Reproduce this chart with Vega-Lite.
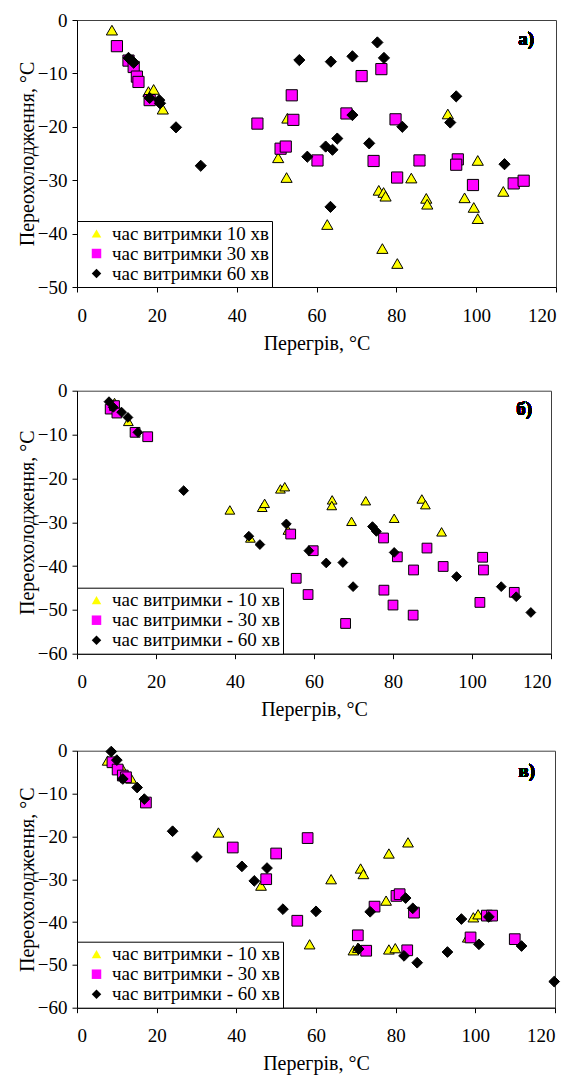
{
  "$schema": "https://vega.github.io/schema/vega-lite/v6.json",
  "background": "white",
  "padding": {"left": 16, "top": 10, "right": 0, "bottom": 0},
  "bounds": "flush",
  "spacing": 103.7,
  "resolve": {"scale": {"fill": "independent", "shape": "independent"}, "legend": {"fill": "independent", "shape": "independent"}},
  "vconcat": [
    {
      "width": 479,
      "height": 267,
      "data": {"values": [
        {"x": 8.75, "y": -1.9, "s": "час витримки 10 хв"},
        {"x": 17.9, "y": -13.4, "s": "час витримки 10 хв"},
        {"x": 19.2, "y": -13.0, "s": "час витримки 10 хв"},
        {"x": 21.5, "y": -16.7, "s": "час витримки 10 хв"},
        {"x": 50.4, "y": -25.8, "s": "час витримки 10 хв"},
        {"x": 52.5, "y": -29.5, "s": "час витримки 10 хв"},
        {"x": 52.7, "y": -18.4, "s": "час витримки 10 хв"},
        {"x": 62.7, "y": -38.3, "s": "час витримки 10 хв"},
        {"x": 75.6, "y": -31.9, "s": "час витримки 10 хв"},
        {"x": 76.8, "y": -32.3, "s": "час витримки 10 хв"},
        {"x": 77.3, "y": -33.0, "s": "час витримки 10 хв"},
        {"x": 76.5, "y": -42.8, "s": "час витримки 10 хв"},
        {"x": 80.25, "y": -45.6, "s": "час витримки 10 хв"},
        {"x": 83.75, "y": -29.6, "s": "час витримки 10 хв"},
        {"x": 87.5, "y": -33.4, "s": "час витримки 10 хв"},
        {"x": 87.75, "y": -34.5, "s": "час витримки 10 хв"},
        {"x": 92.9, "y": -17.6, "s": "час витримки 10 хв"},
        {"x": 97.1, "y": -33.3, "s": "час витримки 10 хв"},
        {"x": 99.4, "y": -35.1, "s": "час витримки 10 хв"},
        {"x": 100.4, "y": -26.3, "s": "час витримки 10 хв"},
        {"x": 100.4, "y": -37.2, "s": "час витримки 10 хв"},
        {"x": 106.8, "y": -32.1, "s": "час витримки 10 хв"},
        {"x": 10.0, "y": -4.9, "s": "час витримки 30 хв"},
        {"x": 12.9, "y": -7.6, "s": "час витримки 30 хв"},
        {"x": 14.2, "y": -8.8, "s": "час витримки 30 хв"},
        {"x": 15.0, "y": -10.6, "s": "час витримки 30 хв"},
        {"x": 15.4, "y": -11.6, "s": "час витримки 30 хв"},
        {"x": 18.2, "y": -15.0, "s": "час витримки 30 хв"},
        {"x": 45.2, "y": -19.4, "s": "час витримки 30 хв"},
        {"x": 51.0, "y": -24.1, "s": "час витримки 30 хв"},
        {"x": 52.3, "y": -23.7, "s": "час витримки 30 хв"},
        {"x": 53.8, "y": -14.1, "s": "час витримки 30 хв"},
        {"x": 54.2, "y": -18.7, "s": "час витримки 30 хв"},
        {"x": 60.25, "y": -26.3, "s": "час витримки 30 хв"},
        {"x": 67.5, "y": -17.5, "s": "час витримки 30 хв"},
        {"x": 71.3, "y": -10.5, "s": "час витримки 30 хв"},
        {"x": 74.3, "y": -26.4, "s": "час витримки 30 хв"},
        {"x": 76.25, "y": -9.2, "s": "час витримки 30 хв"},
        {"x": 79.8, "y": -18.6, "s": "час витримки 30 хв"},
        {"x": 80.2, "y": -29.5, "s": "час витримки 30 хв"},
        {"x": 85.8, "y": -26.3, "s": "час витримки 30 хв"},
        {"x": 95.4, "y": -26.1, "s": "час витримки 30 хв"},
        {"x": 95.0, "y": -27.1, "s": "час витримки 30 хв"},
        {"x": 99.2, "y": -30.9, "s": "час витримки 30 хв"},
        {"x": 109.4, "y": -30.6, "s": "час витримки 30 хв"},
        {"x": 111.9, "y": -30.1, "s": "час витримки 30 хв"},
        {"x": 12.9, "y": -7.1, "s": "час витримки 60 хв"},
        {"x": 13.75, "y": -7.6, "s": "час витримки 60 хв"},
        {"x": 14.2, "y": -8.0, "s": "час витримки 60 хв"},
        {"x": 18.2, "y": -14.6, "s": "час витримки 60 хв"},
        {"x": 20.6, "y": -15.0, "s": "час витримки 60 хв"},
        {"x": 20.8, "y": -15.6, "s": "час витримки 60 хв"},
        {"x": 24.8, "y": -20.1, "s": "час витримки 60 хв"},
        {"x": 31.0, "y": -27.3, "s": "час витримки 60 хв"},
        {"x": 55.7, "y": -7.5, "s": "час витримки 60 хв"},
        {"x": 57.7, "y": -25.6, "s": "час витримки 60 хв"},
        {"x": 62.3, "y": -23.7, "s": "час витримки 60 хв"},
        {"x": 63.5, "y": -35.0, "s": "час витримки 60 хв"},
        {"x": 63.6, "y": -7.8, "s": "час витримки 60 хв"},
        {"x": 64.0, "y": -24.3, "s": "час витримки 60 хв"},
        {"x": 65.2, "y": -22.2, "s": "час витримки 60 хв"},
        {"x": 69.0, "y": -6.8, "s": "час витримки 60 хв"},
        {"x": 69.0, "y": -17.8, "s": "час витримки 60 хв"},
        {"x": 73.2, "y": -23.1, "s": "час витримки 60 хв"},
        {"x": 75.25, "y": -4.2, "s": "час витримки 60 хв"},
        {"x": 76.9, "y": -7.1, "s": "час витримки 60 хв"},
        {"x": 81.5, "y": -20.0, "s": "час витримки 60 хв"},
        {"x": 93.5, "y": -19.2, "s": "час витримки 60 хв"},
        {"x": 95.0, "y": -14.3, "s": "час витримки 60 хв"},
        {"x": 107.1, "y": -27.0, "s": "час витримки 60 хв"}
      ]},
      "layer": [
        {
          "mark": {"type": "point", "filled": true, "stroke": "black", "strokeWidth": 1, "opacity": 1, "size": 125},
          "encoding": {
            "x": {"field": "x", "type": "quantitative", "scale": {"domain": [0, 120], "nice": false, "zero": false}, "axis": {"values": [0, 20, 40, 60, 80, 100, 120], "title": "Перегрів, °C"}},
            "y": {"field": "y", "type": "quantitative", "scale": {"domain": [-50, 0], "nice": false, "zero": false}, "axis": {"values": [-50, -40, -30, -20, -10, 0], "title": "Переохолодження, °C"}},
            "fill": {"field": "s", "type": "nominal", "scale": {"domain": ["час витримки 10 хв", "час витримки 30 хв", "час витримки 60 хв"], "range": ["#FFFF00", "#FF00FF", "#000000"]}, "legend": {"title": null, "orient": "bottom-left", "symbolStrokeColor": "black", "encode": {"symbols": {"update": {"stroke": {"value": "black"}, "strokeWidth": {"value": 1}}}}}},
            "shape": {"field": "s", "type": "nominal", "scale": {"domain": ["час витримки 10 хв", "час витримки 30 хв", "час витримки 60 хв"], "range": ["triangle-up", "square", "diamond"]}, "legend": {"title": null, "orient": "bottom-left", "symbolStrokeColor": "black", "encode": {"symbols": {"update": {"stroke": {"value": "black"}, "strokeWidth": {"value": 1}}}}}}
          }
        },
        {
          "mark": {"type": "text", "text": "а)", "font": "Liberation Serif, Times New Roman, serif", "fontSize": 19, "fontWeight": "bold", "align": "center", "baseline": "middle"},
          "encoding": {"x": {"datum": 112.5}, "y": {"datum": -3.5}}
        }
      ]
    },
    {
      "spacing": 97,
      "bounds": "flush",
      "resolve": {"scale": {"fill": "independent", "shape": "independent"}, "legend": {"fill": "independent", "shape": "independent"}},
      "vconcat": [
        {
          "width": 474,
          "height": 263,
          "data": {"values": [
            {"x": 9.5, "y": -2.7, "s": "час витримки - 10 хв"},
            {"x": 13.0, "y": -7.0, "s": "час витримки - 10 хв"},
            {"x": 38.7, "y": -27.2, "s": "час витримки - 10 хв"},
            {"x": 43.9, "y": -33.6, "s": "час витримки - 10 хв"},
            {"x": 46.9, "y": -26.6, "s": "час витримки - 10 хв"},
            {"x": 47.5, "y": -25.7, "s": "час витримки - 10 хв"},
            {"x": 51.5, "y": -22.4, "s": "час витримки - 10 хв"},
            {"x": 52.6, "y": -21.9, "s": "час витримки - 10 хв"},
            {"x": 53.4, "y": -31.8, "s": "час витримки - 10 хв"},
            {"x": 64.6, "y": -24.9, "s": "час витримки - 10 хв"},
            {"x": 64.5, "y": -26.2, "s": "час витримки - 10 хв"},
            {"x": 69.5, "y": -29.8, "s": "час витримки - 10 хв"},
            {"x": 73.1, "y": -25.1, "s": "час витримки - 10 хв"},
            {"x": 80.3, "y": -29.1, "s": "час витримки - 10 хв"},
            {"x": 87.3, "y": -24.7, "s": "час витримки - 10 хв"},
            {"x": 88.2, "y": -26.0, "s": "час витримки - 10 хв"},
            {"x": 92.3, "y": -32.2, "s": "час витримки - 10 хв"},
            {"x": 8.4, "y": -4.2, "s": "час витримки - 30 хв"},
            {"x": 9.5, "y": -3.4, "s": "час витримки - 30 хв"},
            {"x": 10.1, "y": -5.1, "s": "час витримки - 30 хв"},
            {"x": 14.7, "y": -9.5, "s": "час витримки - 30 хв"},
            {"x": 17.9, "y": -10.5, "s": "час витримки - 30 хв"},
            {"x": 54.1, "y": -32.7, "s": "час витримки - 30 хв"},
            {"x": 55.5, "y": -42.8, "s": "час витримки - 30 хв"},
            {"x": 58.5, "y": -46.5, "s": "час витримки - 30 хв"},
            {"x": 59.8, "y": -36.5, "s": "час витримки - 30 хв"},
            {"x": 68.0, "y": -53.1, "s": "час витримки - 30 хв"},
            {"x": 77.6, "y": -33.6, "s": "час витримки - 30 хв"},
            {"x": 77.7, "y": -45.5, "s": "час витримки - 30 хв"},
            {"x": 80.0, "y": -48.9, "s": "час витримки - 30 хв"},
            {"x": 81.1, "y": -37.9, "s": "час витримки - 30 хв"},
            {"x": 85.2, "y": -40.9, "s": "час витримки - 30 хв"},
            {"x": 85.1, "y": -51.2, "s": "час витримки - 30 хв"},
            {"x": 88.6, "y": -35.9, "s": "час витримки - 30 хв"},
            {"x": 92.7, "y": -40.1, "s": "час витримки - 30 хв"},
            {"x": 102.0, "y": -48.3, "s": "час витримки - 30 хв"},
            {"x": 102.7, "y": -38.0, "s": "час витримки - 30 хв"},
            {"x": 102.9, "y": -40.9, "s": "час витримки - 30 хв"},
            {"x": 110.7, "y": -46.0, "s": "час витримки - 30 хв"},
            {"x": 8.1, "y": -2.5, "s": "час витримки - 60 хв"},
            {"x": 9.2, "y": -3.8, "s": "час витримки - 60 хв"},
            {"x": 11.3, "y": -4.9, "s": "час витримки - 60 хв"},
            {"x": 12.9, "y": -6.1, "s": "час витримки - 60 хв"},
            {"x": 15.4, "y": -9.5, "s": "час витримки - 60 хв"},
            {"x": 27.0, "y": -22.8, "s": "час витримки - 60 хв"},
            {"x": 43.5, "y": -33.2, "s": "час витримки - 60 хв"},
            {"x": 46.3, "y": -35.1, "s": "час витримки - 60 хв"},
            {"x": 53.0, "y": -30.4, "s": "час витримки - 60 хв"},
            {"x": 58.7, "y": -36.5, "s": "час витримки - 60 хв"},
            {"x": 63.1, "y": -39.3, "s": "час витримки - 60 хв"},
            {"x": 67.3, "y": -39.2, "s": "час витримки - 60 хв"},
            {"x": 69.9, "y": -44.7, "s": "час витримки - 60 хв"},
            {"x": 74.8, "y": -31.0, "s": "час витримки - 60 хв"},
            {"x": 75.8, "y": -32.1, "s": "час витримки - 60 хв"},
            {"x": 80.3, "y": -36.9, "s": "час витримки - 60 хв"},
            {"x": 96.1, "y": -42.4, "s": "час витримки - 60 хв"},
            {"x": 107.4, "y": -44.7, "s": "час витримки - 60 хв"},
            {"x": 111.2, "y": -47.0, "s": "час витримки - 60 хв"},
            {"x": 114.9, "y": -50.6, "s": "час витримки - 60 хв"}
          ]},
          "layer": [
            {
              "mark": {"type": "point", "filled": true, "stroke": "black", "strokeWidth": 1, "opacity": 1, "size": 95},
              "encoding": {
                "x": {"field": "x", "type": "quantitative", "scale": {"domain": [0, 120], "nice": false, "zero": false}, "axis": {"values": [0, 20, 40, 60, 80, 100, 120], "title": "Перегрів, °C"}},
                "y": {"field": "y", "type": "quantitative", "scale": {"domain": [-60, 0], "nice": false, "zero": false}, "axis": {"values": [-60, -50, -40, -30, -20, -10, 0], "title": "Переохолодження, °C"}},
                "fill": {"field": "s", "type": "nominal", "scale": {"domain": ["час витримки - 10 хв", "час витримки - 30 хв", "час витримки - 60 хв"], "range": ["#FFFF00", "#FF00FF", "#000000"]}, "legend": {"title": null, "orient": "bottom-left", "symbolStrokeColor": "black", "encode": {"symbols": {"update": {"stroke": {"value": "black"}, "strokeWidth": {"value": 1}}}}}},
                "shape": {"field": "s", "type": "nominal", "scale": {"domain": ["час витримки - 10 хв", "час витримки - 30 хв", "час витримки - 60 хв"], "range": ["triangle-up", "square", "diamond"]}, "legend": {"title": null, "orient": "bottom-left", "symbolStrokeColor": "black", "encode": {"symbols": {"update": {"stroke": {"value": "black"}, "strokeWidth": {"value": 1}}}}}}
              }
            },
            {
              "mark": {"type": "text", "text": "б)", "font": "Liberation Serif, Times New Roman, serif", "fontSize": 19, "fontWeight": "bold", "align": "center", "baseline": "middle"},
              "encoding": {"x": {"datum": 113.2}, "y": {"datum": -4.1}}
            }
          ]
        },
        {
          "width": 478,
          "height": 257,
          "data": {"values": [
            {"x": 7.7, "y": -2.3, "s": "час витримки - 10 хв"},
            {"x": 11.5, "y": -4.4, "s": "час витримки - 10 хв"},
            {"x": 13.6, "y": -6.5, "s": "час витримки - 10 хв"},
            {"x": 35.5, "y": -19.1, "s": "час витримки - 10 хв"},
            {"x": 46.2, "y": -31.5, "s": "час витримки - 10 хв"},
            {"x": 58.4, "y": -45.2, "s": "час витримки - 10 хв"},
            {"x": 63.8, "y": -30.0, "s": "час витримки - 10 хв"},
            {"x": 69.4, "y": -46.6, "s": "час витримки - 10 хв"},
            {"x": 70.5, "y": -46.0, "s": "час витримки - 10 хв"},
            {"x": 71.2, "y": -27.5, "s": "час витримки - 10 хв"},
            {"x": 71.9, "y": -28.8, "s": "час витримки - 10 хв"},
            {"x": 77.6, "y": -35.0, "s": "час витримки - 10 хв"},
            {"x": 78.3, "y": -24.0, "s": "час витримки - 10 хв"},
            {"x": 78.3, "y": -46.4, "s": "час витримки - 10 хв"},
            {"x": 79.9, "y": -46.1, "s": "час витримки - 10 хв"},
            {"x": 83.1, "y": -21.4, "s": "час витримки - 10 хв"},
            {"x": 98.1, "y": -43.6, "s": "час витримки - 10 хв"},
            {"x": 99.5, "y": -38.9, "s": "час витримки - 10 хв"},
            {"x": 100.7, "y": -38.2, "s": "час витримки - 10 хв"},
            {"x": 8.9, "y": -2.7, "s": "час витримки - 30 хв"},
            {"x": 10.2, "y": -4.4, "s": "час витримки - 30 хв"},
            {"x": 11.5, "y": -5.8, "s": "час витримки - 30 хв"},
            {"x": 12.3, "y": -6.2, "s": "час витримки - 30 хв"},
            {"x": 17.3, "y": -12.1, "s": "час витримки - 30 хв"},
            {"x": 39.1, "y": -22.6, "s": "час витримки - 30 хв"},
            {"x": 47.5, "y": -30.0, "s": "час витримки - 30 хв"},
            {"x": 50.0, "y": -24.0, "s": "час витримки - 30 хв"},
            {"x": 55.3, "y": -39.7, "s": "час витримки - 30 хв"},
            {"x": 57.9, "y": -20.4, "s": "час витримки - 30 хв"},
            {"x": 70.5, "y": -43.1, "s": "час витримки - 30 хв"},
            {"x": 72.6, "y": -46.7, "s": "час витримки - 30 хв"},
            {"x": 74.7, "y": -36.4, "s": "час витримки - 30 хв"},
            {"x": 80.2, "y": -33.9, "s": "час витримки - 30 хв"},
            {"x": 81.0, "y": -33.5, "s": "час витримки - 30 хв"},
            {"x": 82.9, "y": -46.6, "s": "час витримки - 30 хв"},
            {"x": 84.6, "y": -37.8, "s": "час витримки - 30 хв"},
            {"x": 98.8, "y": -43.6, "s": "час витримки - 30 хв"},
            {"x": 102.9, "y": -38.5, "s": "час витримки - 30 хв"},
            {"x": 104.2, "y": -38.5, "s": "час витримки - 30 хв"},
            {"x": 109.9, "y": -44.0, "s": "час витримки - 30 хв"},
            {"x": 8.6, "y": -0.2, "s": "час витримки - 60 хв"},
            {"x": 10.0, "y": -2.2, "s": "час витримки - 60 хв"},
            {"x": 11.5, "y": -6.6, "s": "час витримки - 60 хв"},
            {"x": 15.1, "y": -8.6, "s": "час витримки - 60 хв"},
            {"x": 16.9, "y": -11.3, "s": "час витримки - 60 хв"},
            {"x": 24.0, "y": -18.8, "s": "час витримки - 60 хв"},
            {"x": 30.1, "y": -24.8, "s": "час витримки - 60 хв"},
            {"x": 41.4, "y": -27.0, "s": "час витримки - 60 хв"},
            {"x": 44.5, "y": -30.4, "s": "час витримки - 60 хв"},
            {"x": 47.7, "y": -27.4, "s": "час витримки - 60 хв"},
            {"x": 51.7, "y": -37.0, "s": "час витримки - 60 хв"},
            {"x": 60.0, "y": -37.5, "s": "час витримки - 60 хв"},
            {"x": 70.7, "y": -46.3, "s": "час витримки - 60 хв"},
            {"x": 73.6, "y": -37.6, "s": "час витримки - 60 хв"},
            {"x": 82.1, "y": -47.9, "s": "час витримки - 60 хв"},
            {"x": 82.5, "y": -34.4, "s": "час витримки - 60 хв"},
            {"x": 84.3, "y": -36.8, "s": "час витримки - 60 хв"},
            {"x": 85.4, "y": -49.5, "s": "час витримки - 60 хв"},
            {"x": 93.0, "y": -47.0, "s": "час витримки - 60 хв"},
            {"x": 96.5, "y": -39.3, "s": "час витримки - 60 хв"},
            {"x": 100.9, "y": -45.2, "s": "час витримки - 60 хв"},
            {"x": 103.4, "y": -38.8, "s": "час витримки - 60 хв"},
            {"x": 111.6, "y": -45.6, "s": "час витримки - 60 хв"},
            {"x": 119.8, "y": -53.9, "s": "час витримки - 60 хв"}
          ]},
          "layer": [
            {
              "mark": {"type": "point", "filled": true, "stroke": "black", "strokeWidth": 1, "opacity": 1, "size": 115},
              "encoding": {
                "x": {"field": "x", "type": "quantitative", "scale": {"domain": [0, 120], "nice": false, "zero": false}, "axis": {"values": [0, 20, 40, 60, 80, 100, 120], "title": "Перегрів, °C"}},
                "y": {"field": "y", "type": "quantitative", "scale": {"domain": [-60, 0], "nice": false, "zero": false}, "axis": {"values": [-60, -50, -40, -30, -20, -10, 0], "title": "Переохолодження, °C"}},
                "fill": {"field": "s", "type": "nominal", "scale": {"domain": ["час витримки - 10 хв", "час витримки - 30 хв", "час витримки - 60 хв"], "range": ["#FFFF00", "#FF00FF", "#000000"]}, "legend": {"title": null, "orient": "bottom-left", "symbolStrokeColor": "black", "encode": {"symbols": {"update": {"stroke": {"value": "black"}, "strokeWidth": {"value": 1}}}}}},
                "shape": {"field": "s", "type": "nominal", "scale": {"domain": ["час витримки - 10 хв", "час витримки - 30 хв", "час витримки - 60 хв"], "range": ["triangle-up", "square", "diamond"]}, "legend": {"title": null, "orient": "bottom-left", "symbolStrokeColor": "black", "encode": {"symbols": {"update": {"stroke": {"value": "black"}, "strokeWidth": {"value": 1}}}}}}
              }
            },
            {
              "mark": {"type": "text", "text": "в)", "font": "Liberation Serif, Times New Roman, serif", "fontSize": 19, "fontWeight": "bold", "align": "center", "baseline": "middle"},
              "encoding": {"x": {"datum": 112.9}, "y": {"datum": -4.7}}
            }
          ]
        }
      ]
    }
  ],
  "config": {
    "font": "Liberation Serif, Times New Roman, serif",
    "view": {"stroke": "#404040", "strokeWidth": 1},
    "axis": {"domainColor": "black", "tickColor": "black", "labelColor": "black", "titleColor": "black", "labelFont": "Liberation Serif, Times New Roman, serif", "titleFont": "Liberation Serif, Times New Roman, serif", "labelFontSize": 19, "titleFontSize": 20, "titleFontWeight": "normal", "grid": false, "tickSize": 5, "domainWidth": 1, "tickWidth": 1, "labelOverlap": false},
    "axisX": {"labelPadding": 14, "titleY": 46, "titleBaseline": "top"},
    "axisY": {"labelPadding": 5, "titleX": -50, "titleBaseline": "middle"},
    "legend": {"offset": 0, "fillColor": "white", "strokeColor": "black", "padding": 3, "labelFont": "Liberation Serif, Times New Roman, serif", "labelFontSize": 19, "labelLimit": 0, "labelColor": "black", "symbolSize": 90, "symbolStrokeColor": "black", "symbolStrokeWidth": 1, "symbolOffset": 7, "labelOffset": 6, "rowPadding": 0}
  }
}
